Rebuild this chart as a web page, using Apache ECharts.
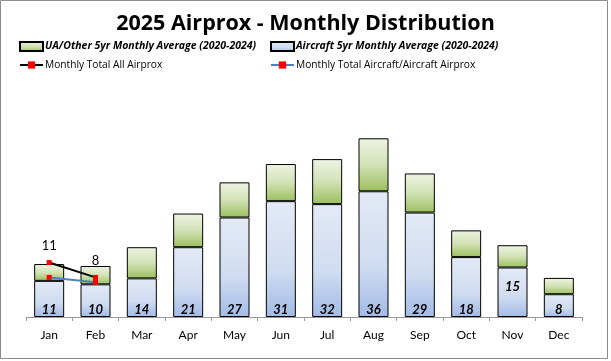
<!DOCTYPE html>
<html><head><meta charset="utf-8">
<script src="https://cdn.jsdelivr.net/npm/echarts@6/dist/echarts.min.js"></script>
<style>html,body{margin:0;padding:0;background:#fff}#c{width:611px;height:361px}</style>
</head><body><div id="c"></div>
<script>
const months = ['Jan','Feb','Mar','Apr','May','Jun','Jul','Aug','Sep','Oct','Nov','Dec'];
const aircraftAvg = [7.3, 6.6, 7.8, 14.1, 20.1, 23.4, 22.8, 25.4, 21.1, 12.1, 10.0, 4.6];
const uaOtherAvg  = [3.4, 3.7, 6.3, 6.8, 7.1, 7.5, 9.1, 10.7, 7.9, 5.4, 4.5, 3.3];
const avgTotalLabels = [11, 10, 14, 21, 27, 31, 32, 36, 29, 18, 15, 8];
const totalAll = [11, 8, null, null, null, null, null, null, null, null, null, null];
const totalAircraft = [8, 7, null, null, null, null, null, null, null, null, null, null];

const F = 'Lato';
const LF = 'Open Sans';
const blueGrad = {type:'linear',x:0,y:0,x2:0,y2:1,colorStops:[{offset:0,color:'#e4eaf6'},{offset:0.6,color:'#cfdcf1'},{offset:1,color:'#a2bbe6'}]};
const greenGrad = {type:'linear',x:0,y:0,x2:0,y2:1,colorStops:[{offset:0,color:'#eef3e3'},{offset:0.5,color:'#d3e2b6'},{offset:1,color:'#9bbf5e'}]};

const chart = echarts.init(document.getElementById('c'), null, {renderer:'canvas'});
function leg(name, left, top, ts, icon){
  return {left:left, top:top, itemWidth:23, itemHeight:9, padding:0, selectedMode:false,
    data:[{name:name, textStyle:ts, icon:icon}], textStyle:{fontFamily:LF, fontSize:10.5, color:'#000', padding:[0,0,0,-3]}};
}
const bi = {fontFamily:LF, fontSize:10.5, fontWeight:'bold', fontStyle:'italic', color:'#000'};
const nm = {fontFamily:LF, fontSize:10.2, color:'#000'};
chart.setOption({
  animation:false,
  backgroundColor:'#fff',
  title:{text:'2025 Airprox - Monthly Distribution', left:'center', top:8,
    textStyle:{fontFamily:'Open Sans', fontSize:21.5, fontWeight:'bold', color:'#000'}},
  legend:[
    leg('UA/Other 5yr Monthly Average (2020-2024)', 19, 41, bi, 'rect'),
    leg('Aircraft 5yr Monthly Average (2020-2024)', 270, 41, bi, 'rect'),
    leg('Monthly Total All Airprox', 19, 60, nm),
    leg('Monthly Total Aircraft/Aircraft Airprox', 270, 60, nm)
  ],
  grid:{left:26, right:29, top:119, bottom:44},
  xAxis:{type:'category', data:months, boundaryGap:true,
    axisLine:{lineStyle:{color:'#9a9a9a', width:1}},
    axisTick:{show:true, length:4, lineStyle:{color:'#9a9a9a'}},
    axisLabel:{fontFamily:F, fontSize:12, color:'#000', margin:12}},
  yAxis:{type:'value', min:0, max:40, show:false, splitLine:{show:false}},
  graphic:[{type:'rect', shape:{x:0.5,y:0.5,width:607,height:358}, style:{fill:'none', stroke:'#8c8c8c', lineWidth:1}, silent:true}],
  series:[
    {name:'Aircraft 5yr Monthly Average (2020-2024)', type:'bar', stack:'a', barWidth:30,
      itemStyle:{color:blueGrad, borderColor:'#000', borderWidth:1},
      data: aircraftAvg.map((v,i)=>({value:v, label: i===10 ? {position:'insideBottom', distance:24} : undefined})),
      label:{show:true, position:'insideBottom', distance:1,
        formatter:(p)=>String(avgTotalLabels[p.dataIndex]),
        fontFamily:F, fontSize:13, fontWeight:'bold', fontStyle:'italic', color:'#000'}},
    {name:'UA/Other 5yr Monthly Average (2020-2024)', type:'bar', stack:'a', barWidth:30,
      itemStyle:{color:greenGrad, borderColor:'#000', borderWidth:1},
      data: uaOtherAvg},
    {name:'Monthly Total All Airprox', type:'line', data: totalAll, z:5,
      lineStyle:{color:'#000', width:2}, itemStyle:{color:'#ff0000'}, symbol:'rect', symbolSize:5,
      label:{show:true, position:'top', distance:8, fontFamily:F, fontSize:13, color:'#000'}},
    {name:'Monthly Total Aircraft/Aircraft Airprox', type:'line', data: totalAircraft, z:5,
      lineStyle:{color:'#4f81bd', width:2}, itemStyle:{color:'#ff0000'}, symbol:'rect', symbolSize:5}
  ]
});
</script></body></html>
